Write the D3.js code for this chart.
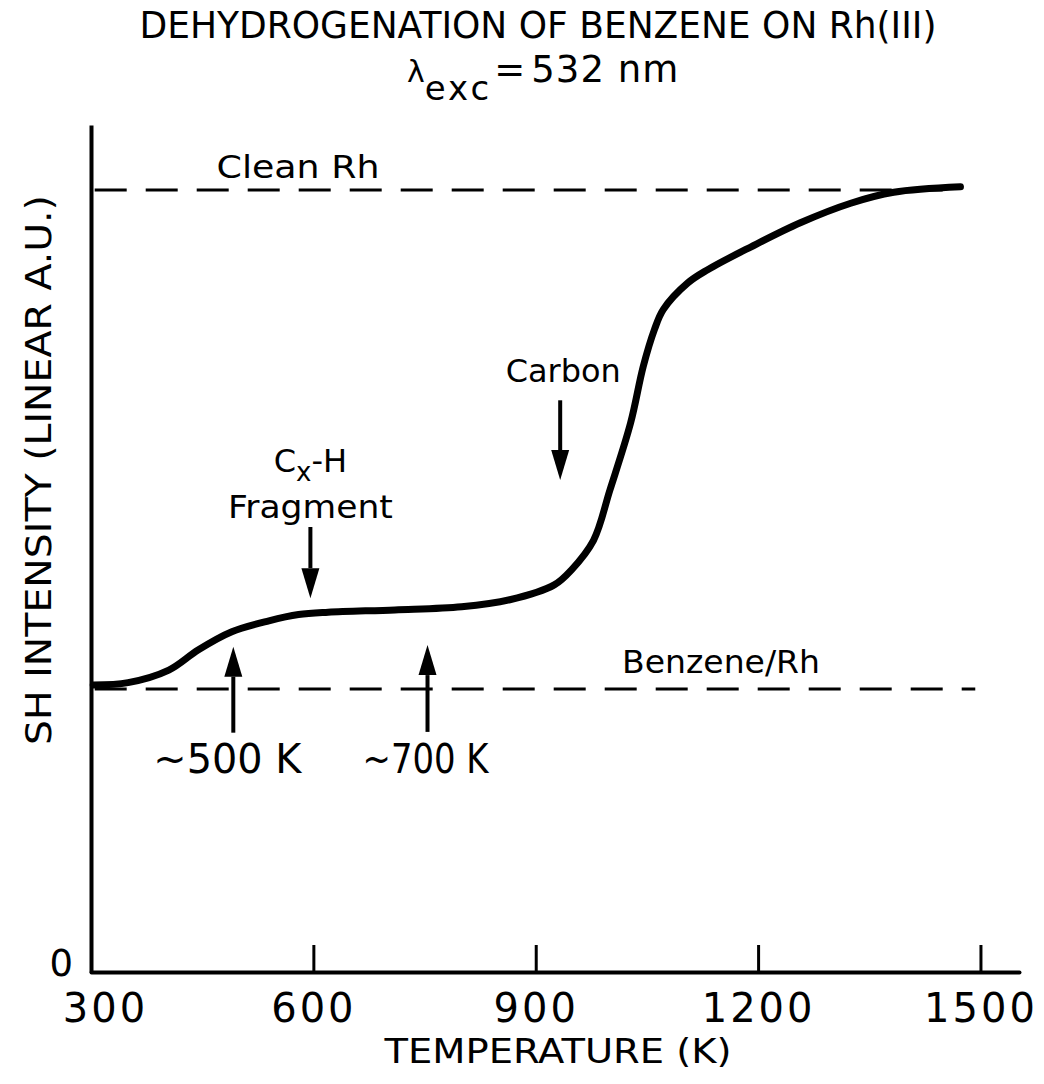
<!DOCTYPE html>
<html>
<head>
<meta charset="utf-8">
<script src="https://cdn.jsdelivr.net/npm/d3@7"></script>
<style>
  body { margin: 0; background: #fff; }
  text { font-family: "DejaVu Sans", sans-serif; fill: #000; }
</style>
</head>
<body>
<div id="chart"></div>
<script>
// curve: temperature (K) vs SH intensity (clean Rh = 1)
const temps = [303, 350, 405, 445, 490, 540, 580, 620, 710, 800, 865, 925, 948, 978,
               1000, 1028, 1045, 1060, 1072, 1105, 1132, 1190, 1257, 1325, 1383, 1473];
const intensity = [0.367, 0.370, 0.386, 0.412, 0.435, 0.449, 0.457, 0.460, 0.463, 0.467, 0.476, 0.495, 0.514, 0.552,
                   0.616, 0.702, 0.774, 0.821, 0.847, 0.881, 0.898, 0.927, 0.958, 0.983, 0.997, 1.004];

const xTicks = [300, 600, 900, 1200, 1500];
const yTicks = [0];

// dashed reference levels
const refNames = ["Clean Rh", "Benzene/Rh"];
const refLevels = [1.0, 0.362];
const refStart = [305, 305];
const refEnd = [1473, 1493];

// arrows: temperature, tail value, tip value
const arrowNames = ["fragment", "500K", "700K", "carbon"];
const arrowT = [596, 492, 754, 933];
const arrowFrom = [0.569, 0.306, 0.307, 0.731];
const arrowTo = [0.478, 0.416, 0.418, 0.629];

let width = 1044, height = 1084;
let margin = {left: 91, top: 125, right: 25, bottom: 112};

let svg = d3.select("#chart").append("svg")
    .attr("width", width)
    .attr("height", height);

let x = d3.scaleLinear()
    .domain([300, 1552])
    .range([margin.left, width - margin.right]);

let y = d3.scaleLinear()
    .domain([0, 1.083])
    .range([height - margin.bottom, margin.top]);

// x axis, ticks point upwards
let xAxis = svg.append("g")
    .attr("transform", `translate(0, ${y(0)})`)
    .call(d3.axisBottom(x).tickValues(xTicks).tickSizeInner(-27).tickSizeOuter(0).tickPadding(0).tickFormat(d3.format("d")));
xAxis.select(".domain").attr("stroke-width", 4).attr("stroke-linecap", "round");
xAxis.selectAll(".tick line").attr("stroke-width", 3);
xAxis.selectAll(".tick text")
    .attr("dy", 0)
    .attr("y", 50)
    .attr("font-size", 40)
    .attr("letter-spacing", 3)
    .attr("font-family", "DejaVu Sans")
    .attr("transform", d => d === 300 ? "translate(14,0)" : null);

let yAxis = svg.append("g")
    .attr("transform", `translate(${x(300)}, 0)`)
    .call(d3.axisLeft(y).tickValues(yTicks).tickSize(0).tickPadding(18).tickFormat(d3.format("d")));
yAxis.select(".domain").attr("stroke-width", 4);
yAxis.selectAll(".tick text")
    .attr("font-size", 37)
    .attr("dy", 0)
    .attr("y", 3)
    .attr("font-family", "DejaVu Sans");

// reference dashed lines
refLevels.forEach((lv, i) => {
    svg.append("line")
        .attr("x1", x(refStart[i]))
        .attr("x2", x(refEnd[i]))
        .attr("y1", y(lv))
        .attr("y2", y(lv))
        .attr("stroke", "#000")
        .attr("stroke-width", 3)
        .attr("stroke-dasharray", "32,19");
});

// the curve
let pts = temps.map((t, i) => [t, intensity[i]]);
let line = d3.line()
    .x(d => x(d[0]))
    .y(d => y(d[1]))
    .curve(d3.curveCatmullRom.alpha(0.5));

svg.append("path")
    .datum(pts)
    .attr("d", line)
    .attr("fill", "none")
    .attr("stroke", "#000")
    .attr("stroke-width", 7)
    .attr("stroke-linecap", "round")
    .attr("stroke-linejoin", "round");

// arrows
arrowT.forEach((t, i) => {
    let ax = x(t), y0 = y(arrowFrom[i]), y1 = y(arrowTo[i]);
    let dir = y1 > y0 ? 1 : -1;
    let headLen = 30, headW = 9;
    svg.append("line")
        .attr("x1", ax).attr("x2", ax)
        .attr("y1", y0).attr("y2", y1 - dir * headLen)
        .attr("stroke", "#000")
        .attr("stroke-width", 4);
    svg.append("path")
        .attr("d", `M${ax},${y1} L${ax - headW},${y1 - dir * headLen} L${ax + headW},${y1 - dir * headLen} Z`)
        .attr("fill", "#000");
});

// title
svg.append("text")
    .attr("x", 538).attr("y", 38)
    .attr("text-anchor", "middle")
    .attr("font-size", 38)
    .attr("textLength", 797)
    .attr("lengthAdjust", "spacingAndGlyphs")
    .text("DEHYDROGENATION  OF BENZENE ON Rh(III)");

let sub = svg.append("text")
    .attr("x", 407).attr("y", 82)
    .attr("font-size", 37);
sub.append("tspan").attr("font-size", 30).text("λ");
sub.append("tspan").attr("dy", 18).attr("font-size", 34).attr("letter-spacing", 3).text("exc");
sub.append("tspan").attr("dy", -18).attr("dx", 2).text("=");
sub.append("tspan").attr("dx", 6).attr("letter-spacing", 1).text("532 nm");

// axis titles
svg.append("text")
    .attr("x", 558).attr("y", 1063)
    .attr("text-anchor", "middle")
    .attr("font-size", 34)
    .attr("textLength", 347)
    .attr("lengthAdjust", "spacingAndGlyphs")
    .text("TEMPERATURE (K)");

svg.append("text")
    .attr("transform", "translate(51, 470) rotate(-90)")
    .attr("text-anchor", "middle")
    .attr("font-size", 36)
    .attr("textLength", 550)
    .attr("lengthAdjust", "spacingAndGlyphs")
    .text("SH INTENSITY  (LINEAR A.U.)");

// annotation labels
function label(txt, px, py, size, len) {
    let t = svg.append("text")
        .attr("x", px).attr("y", py)
        .attr("text-anchor", "middle")
        .attr("font-size", size)
        .text(txt);
    if (len) t.attr("textLength", len).attr("lengthAdjust", "spacingAndGlyphs");
    return t;
}

label(refNames[0], 298, 178, 32, 163);
label(refNames[1], 721, 673, 32, 198);
label("Carbon", x(933) + 3, 382, 32, 115);
label("Fragment", x(596), 518, 32, 165);
label("~500 K", x(492) - 6, 773, 40, 148);
label("~700 K", x(754) - 2, 773, 40, 126);

let cx = svg.append("text")
    .attr("x", x(596)).attr("y", 472)
    .attr("text-anchor", "middle")
    .attr("font-size", 32);
cx.append("tspan").text("C");
cx.append("tspan").attr("dy", 9).attr("font-size", 26).text("x");
cx.append("tspan").attr("dy", -9).text("-H");
</script>
</body>
</html>
